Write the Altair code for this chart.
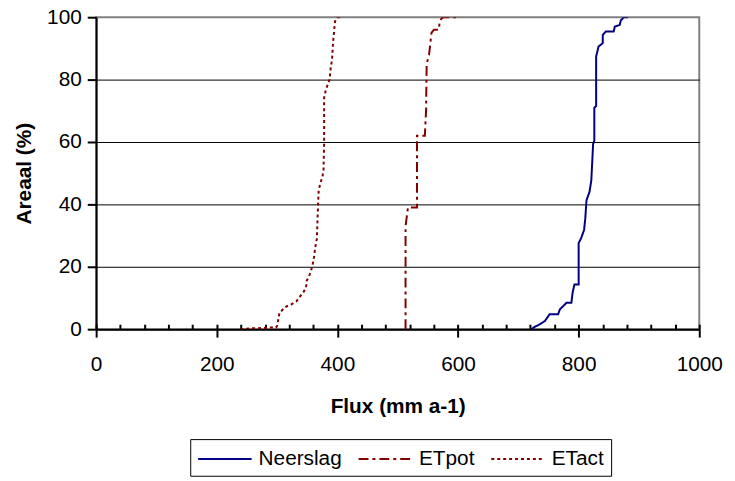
import altair as alt
import pandas as pd

# Cumulative area (%) vs flux (mm a-1)
neerslag_x = [722, 725, 735, 744, 752, 766, 769, 775, 780, 788, 790, 793, 800, 800, 804, 809, 811, 813, 818, 821,
              824, 826, 826, 829, 829, 833, 840, 840, 845, 858, 860, 868, 870, 875, 882]
neerslag_y = [0, 0.5, 1.5, 2.6, 4.8, 4.8, 6.4, 7.5, 8.5, 8.5, 11.7, 14.3, 14.3, 27.6, 29.1, 31.8, 35.5, 41.3, 44, 47.7,
              59.4, 60.4, 71, 71.5, 87.4, 90.6, 91.7, 94.3, 95.4, 95.4, 97, 97.5, 99, 100, 100]

etpot_x = [513, 513, 515, 517, 532, 532, 545, 547, 548, 552, 556, 560, 568, 570, 575, 600]
etpot_y = [0, 33, 36, 39, 39, 62, 62, 70, 85, 88, 95, 96, 96, 99, 100, 100]

etact_x = [239, 245, 255, 270, 285, 298, 300, 302, 304, 308, 312, 318, 323, 332, 340, 343, 348, 349, 354, 356,
           359, 362, 363, 366, 367, 368, 369, 372, 375, 377, 378, 378, 381, 387, 389, 391, 393, 396, 400, 405]
etact_y = [0, 0, 0.3, 0.3, 0.5, 0.5, 1, 3, 5.3, 6, 6.9, 7.5, 7.9, 8.9, 11, 11.7, 13.2, 15.4, 17.5, 18.5,
           20.7, 24, 26, 29, 35, 40, 44.5, 47, 48.7, 51, 60, 74.2, 76.8, 80, 84, 86.2, 92.2, 98.6, 100, 100]

series = ["Neerslag", "ETpot", "ETact"]
colors = ["#000080", "#800000", "#800000"]
dashes = [[1, 0], [10, 4, 3, 4], [3, 3]]

x_major = [0, 200, 400, 600, 800, 1000]
x_minor = list(range(0, 1001, 40))
y_ticks = [0, 20, 40, 60, 80, 100]

rows = []
for name, xs, ys in [("Neerslag", neerslag_x, neerslag_y), ("ETpot", etpot_x, etpot_y), ("ETact", etact_x, etact_y)]:
    for i, (a, b) in enumerate(zip(xs, ys)):
        rows.append({"serie": name, "flux": a, "areaal": b, "i": i})
df = pd.DataFrame(rows)

FONT = "Liberation Sans"
FS = 21

xscale = alt.Scale(domain=[0, 1000], nice=False, zero=False)
yscale = alt.Scale(domain=[0, 100], nice=False)

lines = alt.Chart(df).mark_line(strokeWidth=2, clip=True).encode(
    x=alt.X("flux:Q", scale=xscale,
            axis=alt.Axis(title="Flux (mm a-1)", values=x_major, format="d", tickSize=8, tickWidth=2,
                          tickColor="black", domainColor="black", domainWidth=2, labelFontSize=FS,
                          labelColor="black", labelFont=FONT, labelPadding=17, titleFont=FONT,
                          titleFontSize=FS, titleFontWeight="bold", titleColor="black", titlePadding=21,
                          grid=False, orient="bottom", labelFlush=False)),
    y=alt.Y("areaal:Q", scale=yscale,
            axis=alt.Axis(title="Areaal (%)", values=y_ticks, tickSize=9, tickWidth=2, tickColor="black",
                          domainColor="black", domainWidth=2, labelFontSize=FS, labelColor="black",
                          labelFont=FONT, labelPadding=6, titleFont=FONT, titleFontSize=FS,
                          titleFontWeight="bold", titleColor="black", titlePadding=12,
                          grid=True, gridColor="black", gridWidth=1,
                          gridOpacity={"condition": {"test": "datum.value === 100", "value": 0}, "value": 1})),
    color=alt.Color("serie:N", scale=alt.Scale(domain=series, range=colors),
                    legend=alt.Legend(title=None, orient="none", legendX=95, legendY=426, direction="horizontal",
                                      symbolType="M-1,0H3.5", symbolSize=576, symbolStrokeWidth=2,
                                      labelFontSize=FS, labelFont=FONT, labelColor="black", labelOffset=36,
                                      columnPadding=12, strokeColor="black", padding=7)),
    strokeDash=alt.StrokeDash("serie:N", scale=alt.Scale(domain=series, range=dashes), legend=None),
    order=alt.Order("i:Q"),
)

minor = alt.Chart(df).mark_point(opacity=0).encode(
    x=alt.X("flux:Q", scale=xscale,
            axis=alt.Axis(title=None, values=x_minor, tickSize=5, tickWidth=2, tickColor="black",
                          domain=False, labels=False, grid=False, orient="bottom", offset=-5)),
)

chart = alt.layer(lines, minor).resolve_axis(x="independent").properties(
    width=609, height=315,
    autosize=alt.AutoSizeParams(type="none"),
    padding={"left": 89, "top": 7, "right": 28, "bottom": 150},
).configure_view(stroke="#808080", strokeWidth=2)

chart.save("out.html", embed_options={"renderer": "svg", "actions": False})
